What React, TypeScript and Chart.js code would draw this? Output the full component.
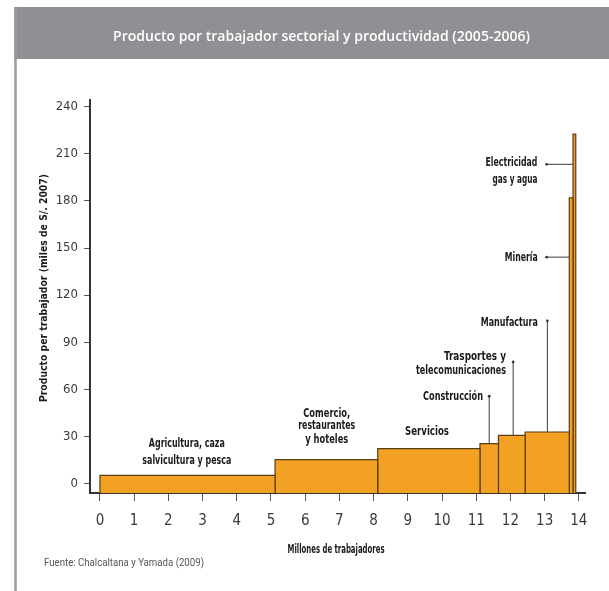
import React, { useEffect, useRef } from 'react';
import { Chart, registerables } from 'chart.js';

Chart.register(...registerables);

// ---- Data ----
const sectors = [
  'Agricultura, caza salvicultura y pesca',
  'Comercio, restaurantes y hoteles',
  'Servicios',
  'Construcción',
  'Trasportes y telecomunicaciones',
  'Manufactura',
  'Minería',
  'Electricidad gas y agua',
];
// millones de trabajadores por sector
const workers = [5.12, 3.0, 2.99, 0.54, 0.78, 1.29, 0.11, 0.08];
// producto por trabajador (miles de S/. 2007)
const productivity = [5.1, 15.1, 22.1, 25.3, 30.6, 32.7, 182, 222.7];
const yTicks = [0, 30, 60, 90, 120, 150, 180, 210, 240];
const xTicks = [0, 1, 2, 3, 4, 5, 6, 7, 8, 9, 10, 11, 12, 13, 14];

const TITLE = 'Producto por trabajador sectorial y productividad (2005-2006)';
const X_TITLE = 'Millones de trabajadores';
const Y_TITLE = 'Producto per trabajador (miles de S/. 2007)';
const SOURCE = 'Fuente: Chalcaltana y Yamada (2009)';

// ---- Layout / style ----
const Y_MIN = -6.2;
const Y_MAX = 244.4;
const X_MIN = -0.29;
const X_MAX = 14.18;
const BAR_FILL = '#F2A122';
const BAR_EDGE = '#5a3d15';
const NARROW = '"Liberation Sans Narrow", "DejaVu Sans Condensed", Roboto, sans-serif';

type Note = {
  lines: string[];
  x: number;
  ys: number[];
  align: CanvasTextAlign;
  widths: number[];
  leader?: { kind: 'v' | 'h'; sector: number; x: number; y: number };
};

const notes: Note[] = [
  { lines: ['Agricultura, caza', 'salvicultura y pesca'], x: 2.54, ys: [25.3, 14.7], align: 'center', widths: [76, 89] },
  { lines: ['Comercio,', 'restaurantes', 'y hoteles'], x: 6.63, ys: [44.7, 36.6, 27.9], align: 'center', widths: [47, 57, 43] },
  { lines: ['Servicios'], x: 9.56, ys: [33.2], align: 'center', widths: [44] },
  { lines: ['Construcción'], x: 11.2, ys: [55.5], align: 'right', widths: [60], leader: { kind: 'v', sector: 3, x: 11.38, y: 55.5 } },
  { lines: ['Trasportes y', 'telecomunicaciones'], x: 11.87, ys: [80.6, 71.7], align: 'right', widths: [62, 90], leader: { kind: 'v', sector: 4, x: 12.08, y: 77.4 } },
  { lines: ['Manufactura'], x: 12.8, ys: [102.7], align: 'right', widths: [57], leader: { kind: 'v', sector: 5, x: 13.08, y: 103.6 } },
  { lines: ['Minería'], x: 12.8, ys: [144.2], align: 'right', widths: [33], leader: { kind: 'h', sector: 6, x: 13.06, y: 144.2 } },
  { lines: ['Electricidad', 'gas y agua'], x: 12.79, ys: [204.2, 193.4], align: 'right', widths: [52, 45], leader: { kind: 'h', sector: 7, x: 13.06, y: 203.4 } },
];

function starts(): number[] {
  const s: number[] = [];
  let acc = 0;
  for (const w of workers) {
    s.push(acc);
    acc += w;
  }
  return s;
}

function drawText(
  ctx: CanvasRenderingContext2D,
  str: string,
  x: number,
  y: number,
  font: string,
  color: string,
  align: CanvasTextAlign,
  maxWidth?: number
) {
  ctx.save();
  ctx.font = font;
  ctx.fillStyle = color;
  ctx.textAlign = align;
  ctx.textBaseline = 'middle';
  if (maxWidth) {
    const w = ctx.measureText(str).width;
    ctx.translate(x, y);
    ctx.scale(maxWidth / w, 1);
    ctx.fillText(str, 0, 0);
  } else {
    ctx.fillText(str, x, y);
  }
  ctx.restore();
}

const decorPlugin = {
  id: 'decor',
  beforeDraw(chart: any) {
    const ctx: CanvasRenderingContext2D = chart.ctx;
    ctx.save();
    ctx.fillStyle = '#ffffff';
    ctx.fillRect(0, 0, chart.width, chart.height);
    // title bar
    ctx.fillStyle = '#8e9093';
    ctx.fillRect(14, 7, chart.width - 14, 52);
    // left border
    ctx.strokeStyle = '#9c9c9c';
    ctx.lineWidth = 2.5;
    ctx.beginPath();
    ctx.moveTo(15.5, 7);
    ctx.lineTo(15.5, chart.height);
    ctx.stroke();
    ctx.restore();
    drawText(ctx, TITLE, 321.5, 37, '600 15px "Open Sans", Lato, sans-serif', '#ffffff', 'center', 417);
  },
  afterDraw(chart: any) {
    const ctx: CanvasRenderingContext2D = chart.ctx;
    const xs = chart.scales.x;
    const ys = chart.scales.y;
    const st = starts();
    const labelFont = `bold 13px ${NARROW}`;
    for (const n of notes) {
      n.lines.forEach((line, i) => {
        drawText(ctx, line, xs.getPixelForValue(n.x), ys.getPixelForValue(n.ys[i]), labelFont, '#1a1a1a', n.align, n.widths[i]);
      });
      if (n.leader) {
        const L = n.leader;
        const px = xs.getPixelForValue(L.x);
        const py = ys.getPixelForValue(L.y);
        let ex: number, ey: number;
        if (L.kind === 'v') {
          ex = px;
          ey = ys.getPixelForValue(productivity[L.sector]);
        } else {
          ex = xs.getPixelForValue(st[L.sector]);
          ey = py;
        }
        ctx.save();
        ctx.strokeStyle = '#3a3a3a';
        ctx.lineWidth = 1;
        ctx.beginPath();
        ctx.moveTo(px, py);
        ctx.lineTo(ex, ey);
        ctx.stroke();
        ctx.fillStyle = '#3a3a3a';
        ctx.beginPath();
        ctx.arc(px, py, 1.4, 0, Math.PI * 2);
        ctx.fill();
        ctx.restore();
      }
    }
    // axis titles
    drawText(ctx, X_TITLE, 336, 550, `bold 12px ${NARROW}`, '#1a1a1a', 'center', 97);
    ctx.save();
    ctx.translate(44, 288);
    ctx.rotate(-Math.PI / 2);
    drawText(ctx, Y_TITLE, 0, 0, `bold 11px ${NARROW}`, '#1a1a1a', 'center', 228);
    ctx.restore();
    drawText(ctx, SOURCE, 44, 563, '11px Roboto, sans-serif', '#555555', 'left', 160);
  },
};

export default function App() {
  const ref = useRef<HTMLCanvasElement | null>(null);
  useEffect(() => {
    if (!ref.current) return;
    const st = starts();
    const datasets = sectors.map((name, i) => {
      const x0 = st[i];
      const x1 = x0 + workers[i];
      const v = productivity[i];
      return {
        label: name,
        data: [
          { x: x0, y: Y_MIN },
          { x: x0, y: v },
          { x: x1, y: v },
          { x: x1, y: Y_MIN },
        ],
        showLine: true,
        fill: { value: Y_MIN },
        backgroundColor: BAR_FILL,
        borderColor: BAR_EDGE,
        borderWidth: 1.2,
        pointRadius: 0,
        tension: 0,
      };
    });
    const chart = new Chart(ref.current, {
      type: 'scatter',
      data: { datasets } as any,
      plugins: [decorPlugin],
      options: {
        responsive: false,
        animation: false,
        devicePixelRatio: 1,
        layout: { padding: { top: 100, left: 0, right: 24, bottom: 0 } },
        plugins: { legend: { display: false }, tooltip: { enabled: false }, title: { display: false } },
        scales: {
          x: {
            type: 'linear',
            min: X_MIN,
            max: X_MAX,
            afterBuildTicks: (s: any) => {
              s.ticks = xTicks.map((v) => ({ value: v }));
            },
            afterFit: (s: any) => {
              s.height = 98;
            },
            grid: { display: true, drawOnChartArea: false, drawTicks: true, tickLength: 8, tickColor: '#555', tickWidth: 1 },
            border: { display: true, color: '#333', width: 2 },
            ticks: { autoSkip: false, maxRotation: 0, padding: 11, color: '#3a3a3a', font: { family: NARROW, size: 15 } },
          },
          y: {
            type: 'linear',
            min: Y_MIN,
            max: Y_MAX,
            afterBuildTicks: (s: any) => {
              s.ticks = yTicks.map((v) => ({ value: v }));
            },
            afterFit: (s: any) => {
              s.width = 90;
            },
            grid: { display: true, drawOnChartArea: false, drawTicks: true, tickLength: 6, tickColor: '#555', tickWidth: 1 },
            border: { display: true, color: '#333', width: 2 },
            ticks: { padding: 6, color: '#3a3a3a', font: { family: NARROW, size: 13 } },
          },
        },
      } as any,
    });
    return () => chart.destroy();
  }, []);
  return (
    <div style={{ position: 'absolute', left: 0, top: 0, width: 609, height: 591, background: '#fff' }}>
      <canvas ref={ref} width={609} height={591} style={{ display: 'block' }} />
    </div>
  );
}
